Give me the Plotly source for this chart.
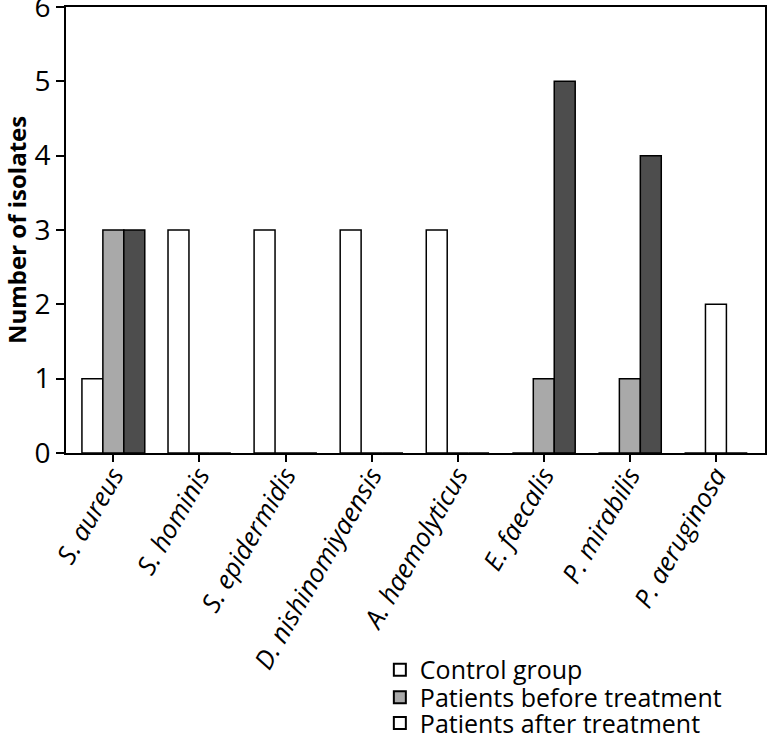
import plotly.graph_objects as go

# Bacterial isolates per species and group
species = ["S. aureus", "S. hominis", "S. epidermidis", "D. nishinomiyaensis",
           "A. haemolyticus", "E. faecalis", "P. mirabilis", "P. aeruginosa"]
control_group = [1, 3, 3, 3, 3, 0, 0, 0]
before_treatment = [3, 0, 0, 0, 0, 1, 1, 2]
after_treatment = [3, 0, 0, 0, 0, 5, 4, 0]
series_names = ["Control group", "Patients before treatment", "Patients after treatment"]

FONT = "Open Sans"
WHITE, LIGHT, DARK = "#ffffff", "#a9a9a9", "#4d4d4d"

# the original draws the P. aeruginosa bar unfilled
before_colors = [WHITE if s == "P. aeruginosa" else LIGHT for s in species]

fig = go.Figure()
for name, vals, col in [(series_names[0], control_group, WHITE),
                        (series_names[1], before_treatment, before_colors),
                        (series_names[2], after_treatment, DARK)]:
    fig.add_trace(go.Bar(
        x=species, y=vals, name=name, showlegend=False,
        marker=dict(color=col, line=dict(color="black", width=1.5)),
    ))

# legend entries as printed in the original (third box is unfilled there);
# one legend per entry so the rows can sit as tight as in the original
legend_ids = ["legend", "legend2", "legend3"]
for name, col, lid in zip(series_names, [WHITE, LIGHT, WHITE], legend_ids):
    fig.add_trace(go.Scatter(
        x=[None], y=[None], name=name, mode="markers", legend=lid,
        marker=dict(symbol="square", size=14, color=col,
                    line=dict(color="black", width=1.2)),
    ))

legend_style = dict(x=0.449, xanchor="left", yanchor="middle",
                    font=dict(size=25, family=FONT),
                    itemsizing="constant", bgcolor="rgba(0,0,0,0)")

fig.update_layout(
    width=767, height=738,
    margin=dict(l=66, r=2, t=7, b=285, autoexpand=False),
    plot_bgcolor="white", paper_bgcolor="white",
    barmode="group", bargap=0.27, bargroupgap=0,
    font=dict(family=FONT, color="black"),
    legend=dict(y=-0.4865, **legend_style),
    legend2=dict(y=-0.548, **legend_style),
    legend3=dict(y=-0.606, **legend_style),
    annotations=[dict(
        text="<b>Number of isolates</b>", textangle=-90,
        xref="paper", yref="paper", x=-0.0715, y=0.5,
        xanchor="center", yanchor="middle", showarrow=False,
        font=dict(size=24, family=FONT),
    )],
)

fig.update_xaxes(
    type="category", range=[-0.55, 7.57], automargin=False,
    tickvals=species, ticktext=[f"<i>{s}</i>" for s in species],
    tickangle=-60, tickfont=dict(size=26, family=FONT), ticklabelstandoff=-12,
    ticks="outside", ticklen=7, tickwidth=1.5, tickcolor="black",
    showline=True, linecolor="black", linewidth=1.8, mirror=True,
    showgrid=False,
)
fig.update_yaxes(
    range=[0, 6], dtick=1, automargin=False, ticklabeloverflow="allow",
    tickfont=dict(size=28, family=FONT),
    ticks="outside", ticklen=8, tickwidth=1.5, tickcolor="black",
    showline=True, linecolor="black", linewidth=1.8, mirror=True,
    showgrid=False, zeroline=False,
)

fig.write_html("out.html", config={"displayModeBar": False},
               post_script="document.body.style.margin = '0';")
